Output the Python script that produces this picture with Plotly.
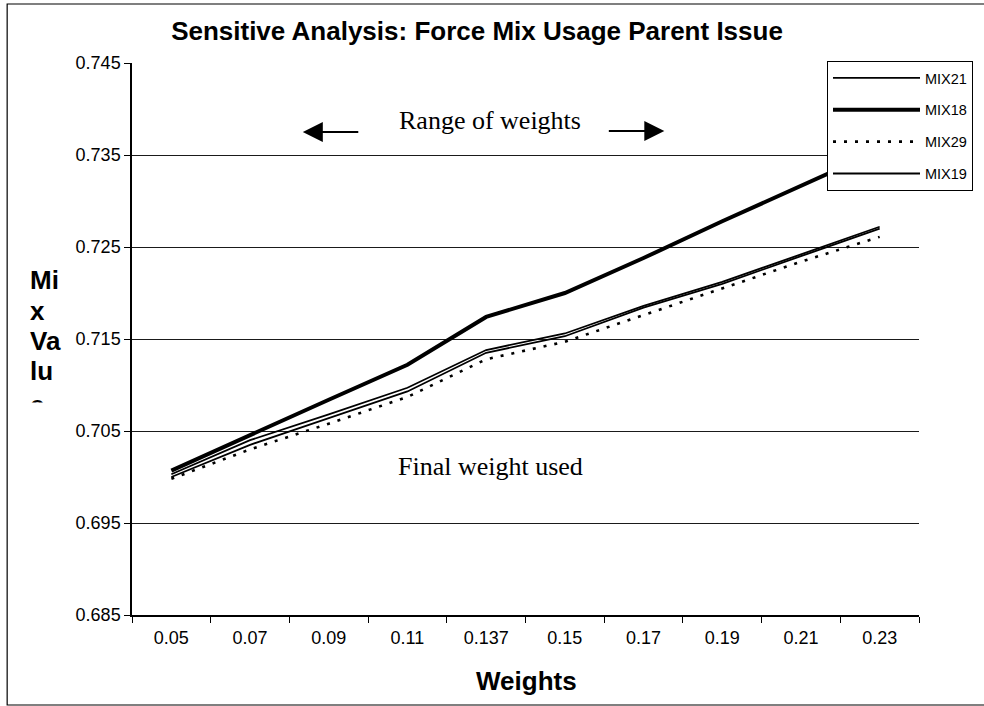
import plotly.graph_objects as go

# ---- data ----
weights = ["0.05", "0.07", "0.09", "0.11", "0.137", "0.15", "0.17", "0.19", "0.21", "0.23"]
mix21 = [0.7003, 0.7040, 0.7068, 0.7097, 0.7138, 0.7156, 0.7186, 0.7212, 0.7242, 0.7272]
mix18 = [0.7007, 0.7046, 0.7084, 0.7122, 0.7174, 0.7200, 0.7238, 0.7278, 0.7317, 0.7355]
mix29 = [0.6998, 0.7030, 0.7058, 0.7087, 0.7128, 0.7147, 0.7176, 0.7205, 0.7234, 0.7261]
mix19 = [0.7000, 0.7035, 0.7064, 0.7093, 0.7135, 0.7153, 0.7184, 0.7210, 0.7240, 0.7270]
y_ticks = [0.685, 0.695, 0.705, 0.715, 0.725, 0.735, 0.745]
y_tick_labels = ["%.3f" % v for v in y_ticks]

# ---- layout geometry (pixels) ----
W, H = 984, 706
L, R, T, B = 132, 920, 63, 615


def px(x):
    return (x - L) / (R - L)


def py(y):
    return (B - y) / (B - T)


ARIAL = "Arial, Liberation Sans, sans-serif"
TIMES = "Times New Roman, Liberation Serif, serif"

fig = go.Figure()
series = [
    ("MIX21", mix21, 1.8, "solid"),
    ("MIX18", mix18, 4.0, "solid"),
    ("MIX29", mix29, 2.6, "3px,8px"),
    ("MIX19", mix19, 1.8, "solid"),
]
for name, vals, w, dash in series:
    fig.add_trace(go.Scatter(
        x=weights, y=vals, mode="lines", name=name, legendgroup=name,
        line=dict(color="black", width=w, dash=dash),
    ))

annotations = [
    dict(text="Range of weights", x=px(490), y=py(120), xref="paper", yref="paper",
         xanchor="center", yanchor="middle",
         showarrow=False, font=dict(family=TIMES, size=26, color="black")),
    dict(text="Final weight used", x=px(491), y=py(467), xref="paper", yref="paper",
         xanchor="center", yanchor="middle",
         showarrow=False, font=dict(family=TIMES, size=26, color="black")),
    dict(text="", x=px(303), y=py(132), xref="paper", yref="paper", showarrow=True,
         ax=57, ay=0, arrowhead=2, arrowsize=2, arrowwidth=2, arrowcolor="black", standoff=0),
    dict(text="", x=px(665), y=py(131), xref="paper", yref="paper", showarrow=True,
         ax=-57, ay=0, arrowhead=2, arrowsize=2, arrowwidth=2, arrowcolor="black", standoff=0),
    dict(text="<b>Weights</b>", x=px(527), y=py(681), xref="paper", yref="paper",
         xanchor="center", yanchor="middle",
         showarrow=False, font=dict(family=ARIAL, size=26, color="black")),
]
ylab_lines = [("Mi", 280), ("x", 311), ("Va", 341), ("lu", 371), ("e", 405)]
for txt, yc in ylab_lines:
    annotations.append(dict(text="<b>%s</b>" % txt, x=px(28), y=py(yc), xref="paper", yref="paper",
                            xanchor="left", yanchor="middle", showarrow=False,
                            font=dict(family=ARIAL, size=26, color="black")))
# white patch clipping the bottom of the last letter, as in the reference
annotations.append(dict(text="\u00a0", x=px(44), y=py(412), xref="paper", yref="paper",
                        xanchor="center", yanchor="middle",
                        showarrow=False, bgcolor="white", width=34, height=18, borderpad=0,
                        font=dict(size=8, color="white")))

fig.update_layout(
    width=W, height=H, autosize=False,
    margin=dict(l=L, r=W - R, t=T, b=H - B, pad=0),
    paper_bgcolor="white", plot_bgcolor="white",
    font=dict(family=ARIAL, color="black", size=18),
    title=dict(text="<b>Sensitive Analysis: Force Mix Usage Parent Issue</b>",
               x=477 / W, xref="container", xanchor="center",
               y=1 - 31 / H, yref="container", yanchor="middle",
               font=dict(family=ARIAL, size=26, color="black")),
    xaxis=dict(type="category", range=[-0.5, len(weights) - 0.5], tickson="boundaries",
               ticks="outside", ticklen=6, tickcolor="black", showline=True,
               linecolor="black", linewidth=1.5, showgrid=False, tickfont=dict(size=18),
               ticklabelstandoff=6, fixedrange=True),
    yaxis=dict(range=[0.685, 0.745], tickvals=y_ticks, ticktext=y_tick_labels,
               ticks="outside", ticklen=6, tickcolor="black", showline=True,
               linecolor="black", linewidth=1.5, showgrid=True, gridcolor="#1a1a1a",
               gridwidth=1, zeroline=False, tickfont=dict(size=18), fixedrange=True),
    legend=dict(x=px(827), y=py(61), xanchor="left", yanchor="top", bgcolor="white",
                bordercolor="black", borderwidth=1,
                font=dict(family=ARIAL, size=14.5, color="black"),
                tracegroupgap=10, itemwidth=87, traceorder="grouped",
                entrywidth=200, entrywidthmode="pixels"),
    annotations=annotations,
    shapes=[dict(type="rect", xref="paper", yref="paper", x0=px(7), x1=px(995),
                 y0=py(705), y1=py(4), line=dict(color="black", width=1.2),
                 fillcolor="rgba(0,0,0,0)", layer="below")],
    showlegend=True,
)

fig.write_html("out.html", config={"displayModeBar": False},
               post_script="document.body.style.margin='0';")
